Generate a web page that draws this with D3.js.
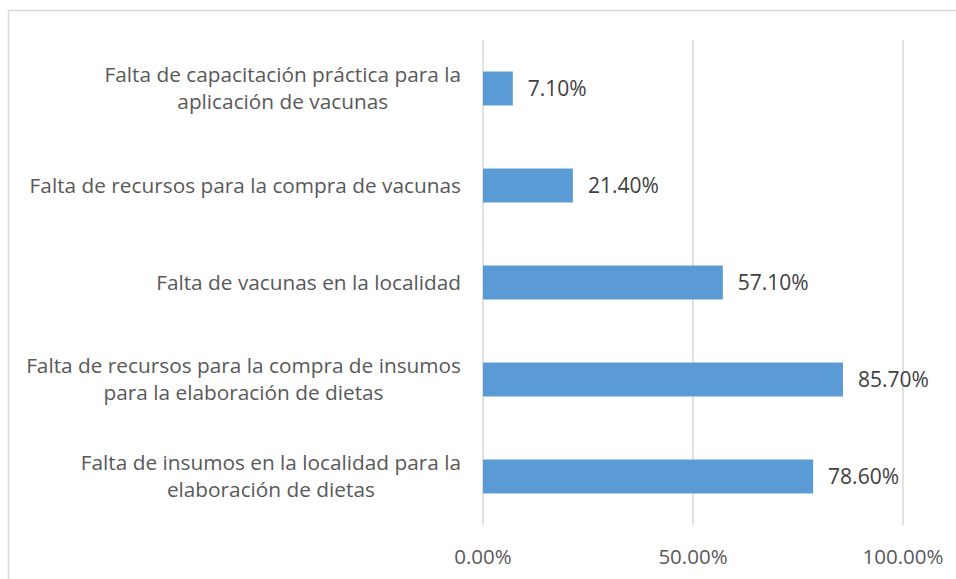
<!DOCTYPE html>
<html>
<head>
<meta charset="utf-8">
<title>Limitantes</title>
<style type="text/css">
body {
	margin: 0;
	background: #ffffff;
}
text {
	font-family: "Open Sans", sans-serif;
}
</style>
</head>
<body>
<div id="chart"></div>

<script src="https://cdnjs.cloudflare.com/ajax/libs/d3/7.8.5/d3.min.js"></script>
<script type="text/javascript">
	// categories, top to bottom
	var categories = [
		['Falta de capacitación práctica para la', 'aplicación de vacunas'],
		['Falta de recursos para la compra de vacunas'],
		['Falta de vacunas en la localidad'],
		['Falta de recursos para la compra de insumos', 'para la elaboración de dietas'],
		['Falta de insumos en la localidad para la', 'elaboración de dietas']
	];
	var values = [7.1, 21.4, 57.1, 85.7, 78.6];
	var ticks = [0, 50, 100];

	var width = 956, height = 579;
	var plotLeft = 483, plotRight = 903, plotTop = 40, plotBottom = 525;
	var labelRight = 461;

	var svg = d3.select('#chart').append('svg')
		.attr('width', width)
		.attr('height', height);

	// chart frame (cut off at right and bottom)
	svg.append('rect')
		.attr('x', 8.5).attr('y', 10.5)
		.attr('width', 1000).attr('height', 1000)
		.attr('fill', 'none')
		.attr('stroke', '#d9d9d9')
		.attr('stroke-width', 1.5);

	var x = d3.scaleLinear().domain([0, 100]).range([plotLeft, plotRight]);
	var y = d3.scaleBand().domain(d3.range(categories.length))
		.range([plotTop, plotBottom]).paddingInner(0.65).paddingOuter(0.325);

	// gridlines
	svg.append('g').selectAll('line').data(ticks).enter()
		.append('line')
		.attr('x1', function(d) { return x(d); })
		.attr('x2', function(d) { return x(d); })
		.attr('y1', plotTop).attr('y2', plotBottom)
		.attr('stroke', '#d9d9d9')
		.attr('stroke-width', 1.5);

	// tick labels
	svg.append('g').selectAll('text').data(ticks).enter()
		.append('text')
		.attr('x', function(d) { return x(d); })
		.attr('y', 564)
		.attr('text-anchor', 'middle')
		.attr('font-size', 20.5)
		.attr('fill', '#595959')
		.text(function(d) { return d3.format('.2f')(d) + '%'; });

	// bars
	svg.append('g').selectAll('rect').data(values).enter()
		.append('rect')
		.attr('x', x(0))
		.attr('y', function(d, i) { return y(i); })
		.attr('width', function(d) { return x(d) - x(0); })
		.attr('height', y.bandwidth())
		.attr('fill', '#5b9bd5');

	// value labels
	svg.append('g').selectAll('text').data(values).enter()
		.append('text')
		.attr('x', function(d) { return x(d) + 15; })
		.attr('y', function(d, i) { return y(i) + y.bandwidth() / 2; })
		.attr('dy', '0.35em')
		.attr('font-size', 21)
		.attr('fill', '#404040')
		.text(function(d) { return d3.format('.2f')(d) + '%'; });

	// category labels: lines centred on the widest line, block right-aligned
	var labels = svg.append('g').selectAll('text').data(categories).enter()
		.append('text')
		.attr('text-anchor', 'middle')
		.attr('font-size', 20.8)
		.attr('fill', '#595959');

	labels.each(function(lines, i) {
		var cy = y(i) + y.bandwidth() / 2;
		var n = lines.length;
		var t = d3.select(this);
		var spans = t.selectAll('tspan').data(lines).enter()
			.append('tspan')
			.attr('y', function(d, j) { return cy + (j - (n - 1) / 2) * 27; })
			.attr('dy', '0.35em')
			.text(function(d) { return d; });
		var w = 0;
		spans.each(function() { w = Math.max(w, this.getComputedTextLength()); });
		spans.attr('x', labelRight - w / 2);
	});
</script>
</body>
</html>
